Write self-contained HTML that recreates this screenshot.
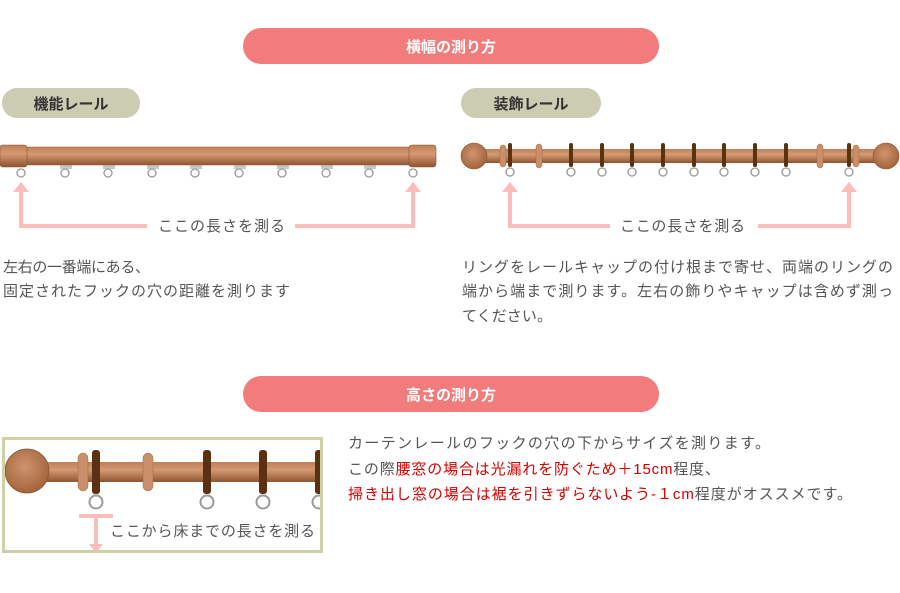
<!DOCTYPE html>
<html><head><meta charset="utf-8"><style>
body{margin:0;background:#fff}
svg{display:block}
text{font-family:"Liberation Sans","Noto Sans CJK JP",sans-serif}
</style></head><body>
<svg width="900" height="593" viewBox="0 0 900 593" xmlns="http://www.w3.org/2000/svg">
<defs>
<linearGradient id="wd" x1="0" y1="0" x2="0" y2="1">
<stop offset="0" stop-color="#c08058"/><stop offset=".4" stop-color="#d39a74"/><stop offset="1" stop-color="#8e5530"/>
</linearGradient>
<radialGradient id="ball" cx=".45" cy=".4" r=".6">
<stop offset="0" stop-color="#cf9470"/><stop offset="1" stop-color="#a3643a"/>
</radialGradient>
</defs>
<rect width="900" height="593" fill="#fff"/>

<rect x="243" y="28" width="416" height="36" rx="18" fill="#f27b7b"/>
<text x="451" y="52" font-size="15" fill="#fff" text-anchor="middle" font-weight="bold">横幅の測り方</text>
<rect x="2" y="88" width="138" height="30" rx="15" fill="#cbccb2"/>
<text x="71" y="109" font-size="15" fill="#333" text-anchor="middle" font-weight="bold">機能レール</text>
<rect x="461" y="88" width="140" height="30" rx="15" fill="#cbccb2"/>
<text x="531" y="109" font-size="15" fill="#333" text-anchor="middle" font-weight="bold">装飾レール</text>

<g fill="#c8c8c8">
<rect x="60" y="164" width="12" height="5"/><rect x="103" y="164" width="12" height="5"/><rect x="147" y="164" width="12" height="5"/><rect x="190" y="164" width="12" height="5"/><rect x="234" y="164" width="12" height="5"/><rect x="277" y="164" width="12" height="5"/><rect x="321" y="164" width="12" height="5"/><rect x="364" y="164" width="12" height="5"/>
</g>
<rect x="25" y="147" width="386" height="18" fill="url(#wd)" stroke="#a06a45" stroke-width=".6"/>
<rect x="0" y="145" width="27" height="22" rx="3" fill="url(#wd)" stroke="#8e5530" stroke-width=".6"/>
<rect x="409" y="145" width="27" height="22" rx="3" fill="url(#wd)" stroke="#8e5530" stroke-width=".6"/>
<g fill="#fff" stroke="#999" stroke-width="1.3">
<circle cx="21" cy="173" r="4"/><circle cx="65" cy="173" r="4"/><circle cx="108" cy="173" r="4"/><circle cx="152" cy="173" r="4"/><circle cx="195" cy="173" r="4"/><circle cx="239" cy="173" r="4"/><circle cx="282" cy="173" r="4"/><circle cx="326" cy="173" r="4"/><circle cx="369" cy="173" r="4"/><circle cx="413" cy="173" r="4"/>
</g>
<g stroke="#fbbcbc" stroke-width="4" fill="none">
<polyline points="21,190 21,226 147,226"/><polyline points="295,226 413,226 413,190"/>
</g>
<g fill="#fbbcbc"><polygon points="13,192 21,182 29,192"/><polygon points="405,192 413,182 421,192"/></g>
<text x="158" y="231" font-size="15" fill="#555" textLength="127">ここの長さを測る</text>

<rect x="485" y="149" width="390" height="14" fill="url(#wd)"/>
<circle cx="474" cy="156" r="13" fill="url(#ball)" stroke="#8e5530" stroke-width=".6"/>
<circle cx="886" cy="156" r="13" fill="url(#ball)" stroke="#8e5530" stroke-width=".6"/>
<g fill="#c98f6a" stroke="#a06a45" stroke-width=".5">
<rect x="500" y="145" width="6" height="22" rx="3"/><rect x="536" y="144" width="6" height="24" rx="3"/><rect x="817" y="144" width="6" height="24" rx="3"/><rect x="853" y="145" width="6" height="22" rx="3"/>
</g>
<g fill="#5a3212">
<rect x="508" y="143" width="4" height="24" rx="2"/><rect x="569" y="143" width="4" height="24" rx="2"/><rect x="600" y="143" width="4" height="24" rx="2"/><rect x="630" y="143" width="4" height="24" rx="2"/><rect x="661" y="143" width="4" height="24" rx="2"/><rect x="692" y="143" width="4" height="24" rx="2"/><rect x="722" y="143" width="4" height="24" rx="2"/><rect x="753" y="143" width="4" height="24" rx="2"/><rect x="784" y="143" width="4" height="24" rx="2"/><rect x="847" y="143" width="4" height="24" rx="2"/>
</g>
<g fill="#fff" stroke="#999" stroke-width="1.3">
<circle cx="510" cy="172" r="4"/><circle cx="571" cy="172" r="4"/><circle cx="602" cy="172" r="4"/><circle cx="632" cy="172" r="4"/><circle cx="663" cy="172" r="4"/><circle cx="694" cy="172" r="4"/><circle cx="724" cy="172" r="4"/><circle cx="755" cy="172" r="4"/><circle cx="786" cy="172" r="4"/><circle cx="849" cy="172" r="4"/>
</g>
<g stroke="#fbbcbc" stroke-width="4" fill="none">
<polyline points="510,190 510,226 610,226"/><polyline points="758,226 849,226 849,190"/>
</g>
<g fill="#fbbcbc"><polygon points="502,192 510,182 518,192"/><polygon points="841,192 849,182 857,192"/></g>
<text x="620" y="231" font-size="15" fill="#555" textLength="125">ここの長さを測る</text>

<g font-size="15" fill="#555">
<text x="3" y="272" textLength="147">左右の一番端にある、</text>
<text x="3" y="296" textLength="287">固定されたフックの穴の距離を測ります</text>
<text x="462" y="272" textLength="431">リングをレールキャップの付け根まで寄せ、両端のリングの</text>
<text x="462" y="296" textLength="431">端から端まで測ります。左右の飾りやキャップは含めず測っ</text>
<text x="462" y="321" textLength="90">てください。</text>
</g>

<rect x="243" y="376" width="416" height="36" rx="18" fill="#f27b7b"/>
<text x="451" y="400" font-size="15" fill="#fff" text-anchor="middle" font-weight="bold">高さの測り方</text>

<rect x="3.5" y="438.5" width="318" height="113" fill="#fff" stroke="#cfd0a8" stroke-width="3"/>
<svg x="5" y="440" width="315" height="110" overflow="hidden">
<rect x="35" y="22" width="285" height="20" fill="url(#wd)"/>
<circle cx="22" cy="31" r="22" fill="url(#ball)" stroke="#8e5530" stroke-width=".8"/>
<g fill="#c98f6a" stroke="#a06a45" stroke-width=".5">
<rect x="73" y="13" width="10" height="38" rx="5"/><rect x="138" y="13" width="10" height="38" rx="5"/>
</g>
<g fill="#5a3212">
<rect x="87" y="10" width="8" height="44" rx="3"/><rect x="198" y="10" width="8" height="44" rx="3"/><rect x="254" y="10" width="8" height="44" rx="3"/><rect x="310" y="10" width="8" height="44" rx="3"/>
</g>
<g fill="#fff" stroke="#999" stroke-width="2">
<circle cx="91" cy="62" r="6.5"/><circle cx="202" cy="62" r="6.5"/><circle cx="258" cy="62" r="6.5"/><circle cx="314" cy="62" r="6.5"/>
</g>
</svg>
<g stroke="#fbbcbc" stroke-width="4"><line x1="79" y1="516" x2="113" y2="516"/><line x1="96" y1="516" x2="96" y2="545"/></g>
<polygon points="89,544 103,544 96,553" fill="#fbbcbc"/>
<text x="110" y="536" font-size="15" fill="#555" textLength="205">ここから床までの長さを測る</text>

<g font-size="15" fill="#555">
<text x="348" y="448" textLength="422">カーテンレールのフックの穴の下からサイズを測ります。</text>
<text x="348" y="474" textLength="372">この際<tspan fill="#d40000">腰窓の場合は光漏れを防ぐため＋15cm</tspan>程度、</text>
<text x="348" y="499" textLength="504"><tspan fill="#d40000">掃き出し窓の場合は裾を引きずらないよう-１cm</tspan>程度がオススメです。</text>
</g>
</svg>
</body></html>
